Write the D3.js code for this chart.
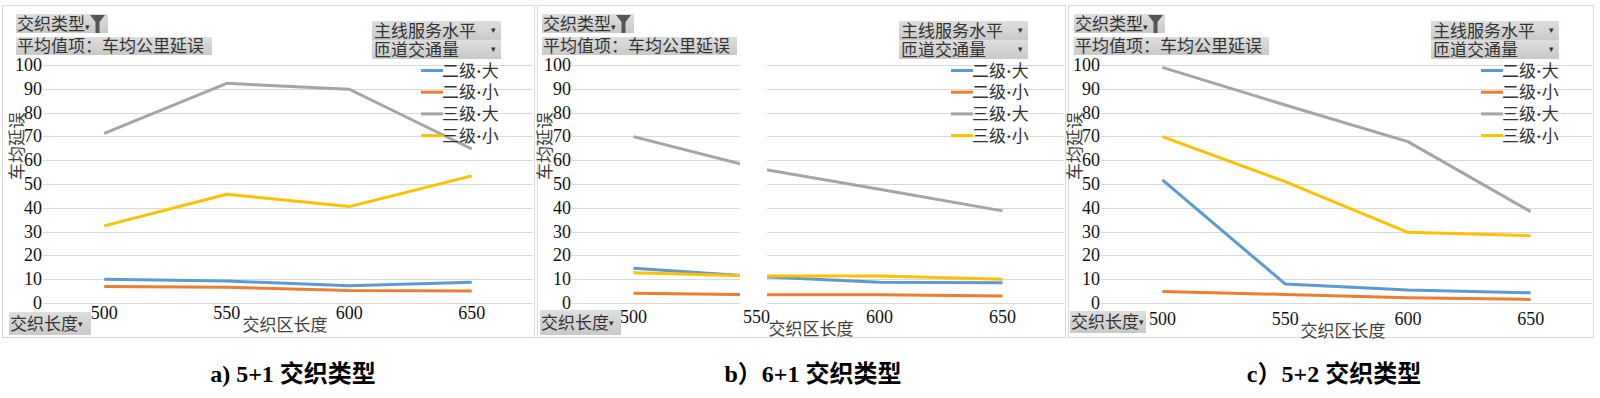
<!DOCTYPE html>
<html><head><meta charset="utf-8">
<script src="https://cdn.jsdelivr.net/npm/d3@7/dist/d3.min.js"></script>
<style>
html,body{margin:0;padding:0;background:#fff;}
svg{display:block;}
</style></head>
<body>
<svg id="chart" width="1600" height="398"></svg>
<script>
// ---------- data ----------
const categories = [500, 550, 600, 650];
const seriesNames = ["二级·大", "二级·小", "三级·大", "三级·小"];
const seriesColors = ["#5B9BD5", "#ED7D31", "#A5A5A5", "#FFC000"];
const yTicks = [0, 10, 20, 30, 40, 50, 60, 70, 80, 90, 100];
const panelTitles = ["a) 5+1 交织类型", "b）6+1 交织类型", "c）5+2 交织类型"];

// panel a: 5+1
const a_erDa   = [10.0, 9.2, 7.3, 8.7];
const a_erXiao = [6.9, 6.6, 5.2, 5.0];
const a_sanDa  = [71.3, 92.3, 89.8, 64.7];
const a_sanXiao= [32.4, 45.7, 40.5, 53.4];
// panel b: 6+1
const b_erDa   = [14.6, 11.1, 8.7, 8.5];
const b_erXiao = [4.1, 3.5, 3.5, 2.9];
const b_sanDa  = [69.9, 56.7, 47.8, 38.7];
const b_sanXiao= [12.7, 11.3, 11.3, 10.0];
// panel c: 5+2
const c_erDa   = [51.7, 8.0, 5.5, 4.3];
const c_erXiao = [4.8, 3.6, 2.2, 1.5];
const c_sanDa  = [99.0, 83.2, 67.8, 38.4];
const c_sanXiao= [69.9, 51.0, 29.7, 28.3];

const panelSeries = [
  [a_erDa, a_erXiao, a_sanDa, a_sanXiao],
  [b_erDa, b_erXiao, b_sanDa, b_sanXiao],
  [c_erDa, c_erXiao, c_sanDa, c_sanXiao]
];

// ---------- layout ----------
const layouts = [
  {bx0:2, bx1:534, px0:43, px1:533, yt:17, hl:16, hw:92, hw2:196, rb:372, rbw:129, lg:421, bb:[9,312,82,23], xl:313, xt:285, cap:293},
  {bx0:537, bx1:1065, px0:572, px1:1064, yt:545, hl:542, hw:92, hw2:195, rb:899, rbw:129, lg:951, bb:[540,310,81,25], xl:317, xt:811, cap:813, gap:[740,767]},
  {bx0:1068, bx1:1593, px0:1101, px1:1592, yt:1075, hl:1074, hw:91, hw2:195, rb:1431, rbw:128, lg:1481, bb:[1070,311,76,22], xl:319, xt:1343, cap:1334}
];

const svg = d3.select("#chart");
const defs = svg.append("defs");
const grad = defs.append("linearGradient").attr("id","boxg").attr("x1",0).attr("y1",0).attr("x2",0).attr("y2",1);
grad.append("stop").attr("offset","0%").attr("stop-color","#dedede");
grad.append("stop").attr("offset","100%").attr("stop-color","#c9c9c9");

const CJK = "'Noto Sans CJK SC', sans-serif";
const SERIF = "'Liberation Serif', 'Times New Roman', serif";
const panelTop = 5, panelBottom = 337;
const y = d3.scaleLinear().domain([0, 100]).range([303, 65]);

layouts.forEach((L, pi) => {
  const g = svg.append("g");
  // panel border
  g.append("rect").attr("x", L.bx0 + 0.5).attr("y", panelTop + 0.5)
    .attr("width", L.bx1 - L.bx0).attr("height", panelBottom - panelTop)
    .attr("fill", "#fff").attr("stroke", "#d9d9d9").attr("stroke-width", 1);

  const x = d3.scalePoint().domain(categories).range([L.px0, L.px1]).padding(0.5);

  // gridlines
  g.append("g").selectAll("line").data(yTicks).join("line")
    .attr("x1", L.px0).attr("x2", L.px1)
    .attr("y1", d => Math.round(y(d)) + 0.5).attr("y2", d => Math.round(y(d)) + 0.5)
    .attr("stroke", "#d9d9d9").attr("stroke-width", 1);

  // y tick labels
  g.append("g").selectAll("text").data(yTicks).join("text")
    .attr("x", L.px0 - 1).attr("y", d => y(d) + 6)
    .attr("text-anchor", "end").attr("font-family", SERIF).attr("font-size", 18)
    .attr("fill", "#111").text(d => d);

  // series lines
  const line = d3.line().x((d, i) => x(categories[i])).y(d => y(d));
  panelSeries[pi].forEach((vals, si) => {
    g.append("path").datum(vals).attr("d", line)
      .attr("fill", "none").attr("stroke", seriesColors[si])
      .attr("stroke-width", 3).attr("stroke-linejoin", "round");
  });

  // white gap (panel b)
  if (L.gap) {
    g.append("rect").attr("x", L.gap[0]).attr("y", 60)
      .attr("width", L.gap[1] - L.gap[0]).attr("height", 246).attr("fill", "#fff");
  }

  // x tick labels
  g.append("g").selectAll("text").data(categories).join("text")
    .attr("x", d => x(d)).attr("y", L.xl + 6)
    .attr("text-anchor", "middle").attr("font-family", SERIF).attr("font-size", 18)
    .attr("fill", "#111").text(d => d);

  // axis titles
  g.append("text").attr("x", L.xt).attr("y", L.xl + 18)
    .attr("text-anchor", "middle").attr("font-family", CJK).attr("font-size", 17)
    .attr("fill", "#404040").text("交织区长度");
  g.append("text").attr("transform", `translate(${L.yt + 6},146) rotate(-90)`)
    .attr("text-anchor", "middle").attr("font-family", CJK).attr("font-size", 17)
    .attr("fill", "#404040").text("车均延误");

  // header boxes
  g.append("rect").attr("x", L.hl).attr("y", 14).attr("width", L.hw).attr("height", 19).attr("fill", "url(#boxg)");
  g.append("text").attr("x", L.hl + 1).attr("y", 30).attr("font-family", CJK).attr("font-size", 17)
    .attr("fill", "#333").text("交织类型");
  g.append("text").attr("x", L.hl + 69).attr("y", 30).attr("font-family", SERIF).attr("font-size", 9)
    .attr("fill", "#333").text("▾");
  const fx = L.hl + 74;
  g.append("path").attr("d", `M${fx},15 h15 l-5.5,7 v11 h-4 v-11 z`).attr("fill", "#555");

  g.append("rect").attr("x", L.hl).attr("y", 37).attr("width", L.hw2).attr("height", 18).attr("fill", "url(#boxg)");
  g.append("text").attr("x", L.hl + 1).attr("y", 52).attr("font-family", CJK).attr("font-size", 17)
    .attr("fill", "#333").text("平均值项：车均公里延误");

  // right boxes
  const rTexts = ["主线服务水平", "匝道交通量"];
  rTexts.forEach((t, i) => {
    const ry = 21 + i * 19;
    g.append("rect").attr("x", L.rb).attr("y", ry).attr("width", L.rbw).attr("height", 19).attr("fill", "url(#boxg)");
    g.append("text").attr("x", L.rb + 2).attr("y", ry + 16).attr("font-family", CJK).attr("font-size", 17)
      .attr("fill", "#333").text(t);
    g.append("text").attr("x", L.rb + L.rbw - 10).attr("y", ry + 12).attr("font-family", SERIF).attr("font-size", 9)
      .attr("fill", "#333").text("▾");
  });

  // legend
  seriesNames.forEach((nm, si) => {
    const ly = 70.5 + si * 21.7;
    g.append("line").attr("x1", L.lg).attr("x2", L.lg + 22).attr("y1", ly).attr("y2", ly)
      .attr("stroke", seriesColors[si]).attr("stroke-width", 3);
    const parts = nm.split("·");
    const t = g.append("text").attr("x", L.lg + 21).attr("y", ly + 6).attr("font-family", CJK).attr("font-size", 17)
      .attr("fill", "#333");
    t.append("tspan").text(parts[0]);
    t.append("tspan").attr("font-family", SERIF).attr("font-weight", "bold").text("·");
    t.append("tspan").text(parts[1]);
  });

  // bottom box
  g.append("rect").attr("x", L.bb[0]).attr("y", L.bb[1]).attr("width", L.bb[2]).attr("height", L.bb[3]).attr("fill", "url(#boxg)");
  g.append("text").attr("x", L.bb[0] + 1).attr("y", L.bb[1] + L.bb[3] / 2 + 6).attr("font-family", CJK).attr("font-size", 17)
    .attr("fill", "#333").text("交织长度");
  g.append("text").attr("x", L.bb[0] + 69).attr("y", L.bb[1] + L.bb[3] / 2 + 3).attr("font-family", SERIF).attr("font-size", 9)
    .attr("fill", "#333").text("▾");

  // caption
  svg.append("text").attr("x", L.cap).attr("y", 382).attr("text-anchor", "middle")
    .attr("font-family", "'Liberation Serif', 'Noto Sans CJK SC', serif").attr("font-weight", "bold")
    .attr("font-size", 24).attr("fill", "#000").text(panelTitles[pi]);
});
</script>
</body></html>
